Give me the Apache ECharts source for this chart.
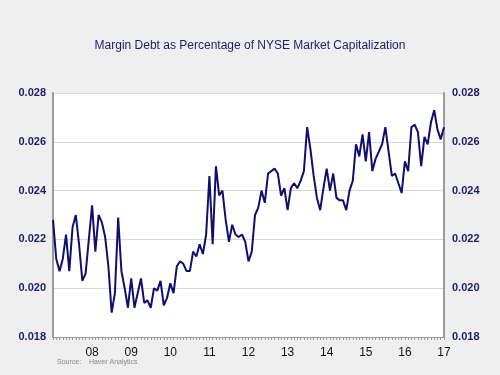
<!DOCTYPE html>
<html lang="en">
<head>
    <meta charset="utf-8">
    <title>Margin Debt as Percentage of NYSE Market Capitalization</title>
    <script type="text/javascript" src="https://cdn.jsdelivr.net/npm/echarts@6/dist/echarts.min.js"></script>
    <style>
        html, body { margin: 0; padding: 0; background: #efefef; }
        #main { width: 500px; height: 375px; }
    </style>
</head>
<body>
<div id="main"></div>
<script>
    // months Jan 2007 .. Jan 2017
    var months = [];
    for (var y = 2007; y <= 2017; y++) {
        for (var m = 1; m <= 12; m++) {
            if (y === 2017 && m > 1) break;
            months.push(y + '-' + (m < 10 ? '0' + m : m));
        }
    }

    // margin debt / NYSE market cap, monthly
    var marginRatio = [
        0.0228, 0.0212, 0.0207, 0.0212, 0.0222, 0.0207, 0.0225, 0.0230, 0.0218, 0.0203, 0.0206, 0.0220,
        0.0234, 0.0215, 0.0230, 0.0227, 0.0221, 0.0209, 0.0190, 0.0198, 0.0229, 0.0207, 0.0200, 0.0192,
        0.0204, 0.0192, 0.0198, 0.0204, 0.0194, 0.0195, 0.0192, 0.0200, 0.0199, 0.0203, 0.0193, 0.0196,
        0.0202, 0.0198, 0.0209, 0.0211, 0.0210, 0.0207, 0.0207, 0.0215, 0.0213, 0.0218, 0.0214, 0.0222,
        0.0246, 0.0218, 0.0250, 0.0238, 0.0240, 0.0228, 0.0219, 0.0226, 0.0222, 0.0221, 0.0222, 0.0219,
        0.0211, 0.0215, 0.0230, 0.0233, 0.0240, 0.0235, 0.0247, 0.0248, 0.0249, 0.0247, 0.0238, 0.0241,
        0.0232, 0.0241, 0.0243, 0.0241, 0.0244, 0.0248, 0.0266, 0.0257, 0.0246, 0.0237, 0.0232, 0.0241,
        0.0249, 0.0240, 0.0247, 0.0237, 0.0236, 0.0236, 0.0232, 0.0240, 0.0244, 0.0259, 0.0254, 0.0263,
        0.0252, 0.0264, 0.0248, 0.0253, 0.0256, 0.0259, 0.0266, 0.0256, 0.0246, 0.0247, 0.0243, 0.0239,
        0.0252, 0.0248, 0.0266, 0.0267, 0.0264, 0.0250, 0.0262, 0.0259, 0.0268, 0.0273, 0.0265, 0.0261,
        0.0266
    ];

    var yTicks = [0.018, 0.020, 0.022, 0.024, 0.026, 0.028];
    var yearLabels = ['08', '09', '10', '11', '12', '13', '14', '15', '16', '17'];

    var navy = '#1c1c6e';
    var valAxis = function (pos) {
        return {
            type: 'value',
            position: pos,
            min: yTicks[0],
            max: yTicks[yTicks.length - 1],
            interval: 0.002,
            axisLine: { show: true, lineStyle: { color: '#9a9a9a', width: 2 } },
            axisTick: { show: false },
            axisLabel: {
                color: navy,
                fontFamily: 'Liberation Sans',
                fontSize: 11,
                fontWeight: 'bold',
                margin: pos === 'left' ? 7 : 8,
                formatter: function (v) { return v.toFixed(3); }
            },
            splitLine: { show: pos === 'left', lineStyle: { color: '#d9d9d9', width: 1 } }
        };
    };

    var myChart = echarts.init(document.getElementById('main'));
    var option = {
        backgroundColor: '#efefef',
        animation: false,
        title: {
            text: 'Margin Debt as Percentage of NYSE Market Capitalization',
            left: 'center',
            top: 35,
            textStyle: { color: navy, fontSize: 12, fontWeight: 'normal', fontFamily: 'Liberation Sans' }
        },
        graphic: [{
            type: 'text',
            left: 57,
            top: 359,
            style: { text: 'Source:    Haver Analytics', fill: '#888', fontSize: 7, fontFamily: 'Liberation Sans' }
        }],
        grid: {
            left: 53, right: 56, top: 93, bottom: 38,
            show: true, backgroundColor: '#ffffff', borderWidth: 0
        },
        xAxis: {
            type: 'category',
            data: months,
            boundaryGap: false,
            axisLine: { show: true, lineStyle: { color: '#9a9a9a', width: 1 } },
            axisTick: { show: true, interval: 0, length: 3, inside: false, lineStyle: { color: '#9a9a9a' } },
            axisLabel: {
                interval: function (i) { return i > 0 && i % 12 === 0; },
                color: '#111',
                fontFamily: 'Liberation Sans',
                fontSize: 12,
                margin: 10,
                formatter: function (v, i) { return yearLabels[Math.round(i / 12) - 1]; }
            },
            splitLine: { show: false }
        },
        yAxis: [valAxis('left'), valAxis('right')],
        series: [{
            type: 'line',
            data: marginRatio,
            symbol: 'none',
            lineStyle: { color: '#0f0f6e', width: 2 }
        }]
    };
    myChart.setOption(option);
</script>
</body>
</html>
